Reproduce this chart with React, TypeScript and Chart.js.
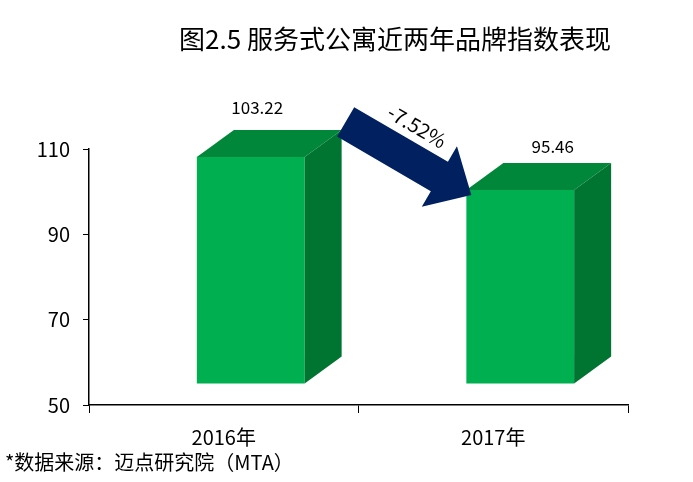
import React, { useEffect, useRef } from 'react';
import { Chart, registerables } from 'chart.js';

Chart.register(...registerables);

const categories = ['2016年', '2017年'];
const indexValues = [103.22, 95.46];
const valueLabels = ['103.22', '95.46'];
const changeLabel = '-7.52%';
const yTicks = [50, 70, 90, 110];

const FONT = '"Noto Sans CJK SC", "Open Sans", sans-serif';
const FRONT = '#00B050';
const TOP = '#00873A';
const SIDE = '#007431';
const NAVY = '#002060';

// 3D look: front face shifted, depth offset
const SHIFT = { x: 27, y: -21 };
const DEPTH = { x: 37, y: -27 };
// label nudges (Excel labels were dragged by hand)
const labelNudge = [[-12, -22], [14, -16]];

const cubePlugin = {
  id: 'cube',
  beforeDatasetsDraw(chart: any) {
    chart.ctx.save();
    chart.ctx.translate(SHIFT.x, SHIFT.y);
  },
  afterDatasetsDraw(chart: any) {
    const ctx = chart.ctx;
    const bars = chart.getDatasetMeta(0).data;
    bars.forEach((el: any) => {
      const L = el.x - el.width / 2;
      const R = el.x + el.width / 2;
      const T = el.y;
      const B = el.base;
      ctx.fillStyle = TOP;
      ctx.beginPath();
      ctx.moveTo(L, T);
      ctx.lineTo(R, T);
      ctx.lineTo(R + DEPTH.x, T + DEPTH.y);
      ctx.lineTo(L + DEPTH.x, T + DEPTH.y);
      ctx.closePath();
      ctx.fill();
      ctx.fillStyle = SIDE;
      ctx.beginPath();
      ctx.moveTo(R, T);
      ctx.lineTo(R + DEPTH.x, T + DEPTH.y);
      ctx.lineTo(R + DEPTH.x, B + DEPTH.y);
      ctx.lineTo(R, B);
      ctx.closePath();
      ctx.fill();
    });
    ctx.restore();
  },
  afterDraw(chart: any) {
    const ctx = chart.ctx;
    const bars = chart.getDatasetMeta(0).data;
    ctx.save();
    // value labels
    ctx.fillStyle = '#000';
    ctx.font = `17px ${FONT}`;
    ctx.textAlign = 'center';
    ctx.textBaseline = 'middle';
    bars.forEach((el: any, i: number) => {
      const cx = el.x + SHIFT.x + DEPTH.x / 2 + labelNudge[i][0];
      const cy = el.y + SHIFT.y + DEPTH.y + labelNudge[i][1];
      ctx.fillText(valueLabels[i], cx, cy);
    });

    // arrow from bar 1 back-top corner to bar 2 front-top corner
    const b1 = bars[0];
    const b2 = bars[1];
    const sx = b1.x + b1.width / 2 + SHIFT.x + DEPTH.x + 4;
    const sy = b1.y + SHIFT.y + DEPTH.y - 8;
    const tx = b2.x - b2.width / 2 + SHIFT.x + 5;
    const ty = b2.y + SHIFT.y + 5;
    const len = Math.hypot(tx - sx, ty - sy);
    const ang = Math.atan2(ty - sy, tx - sx);
    const shaftHalf = 17;
    const headHalf = 35;
    const headLen = 37;
    ctx.translate(sx, sy);
    ctx.rotate(ang);
    ctx.fillStyle = NAVY;
    ctx.beginPath();
    ctx.moveTo(0, -shaftHalf);
    ctx.lineTo(len - headLen, -shaftHalf);
    ctx.lineTo(len - headLen, -headHalf);
    ctx.lineTo(len, 0);
    ctx.lineTo(len - headLen, headHalf);
    ctx.lineTo(len - headLen, shaftHalf);
    ctx.lineTo(0, shaftHalf);
    ctx.closePath();
    ctx.fill();
    ctx.fillStyle = '#000';
    ctx.font = `20px ${FONT}`;
    ctx.fillText(changeLabel, 64, -32);
    ctx.restore();

    // title and footnote
    ctx.save();
    ctx.fillStyle = '#000';
    ctx.textBaseline = 'middle';
    ctx.textAlign = 'center';
    ctx.font = `26px ${FONT}`;
    ctx.fillText('图2.5 服务式公寓近两年品牌指数表现', 395, 39);
    ctx.textAlign = 'left';
    ctx.font = `20px ${FONT}`;
    ctx.fillText('*数据来源：迈点研究院（MTA）', 5, 462);
    ctx.restore();
  },
};

export default function App() {
  const canvasRef = useRef<HTMLCanvasElement | null>(null);
  useEffect(() => {
    document.body.style.margin = '0';
    if (!canvasRef.current) return;
    const c = new Chart(canvasRef.current, {
      type: 'bar',
      data: {
        labels: categories,
        datasets: [{
          data: indexValues,
          base: 50,
          backgroundColor: FRONT,
          borderWidth: 0,
          barPercentage: 0.4,
          categoryPercentage: 1,
          clip: false as any,
        }],
      },
      options: {
        responsive: true,
        maintainAspectRatio: false,
        animation: false,
        layout: { padding: { top: 149, bottom: 21, right: 65, left: 0 } },
        plugins: { legend: { display: false }, tooltip: { enabled: false }, title: { display: false } },
        scales: {
          x: {
            grid: { display: true, drawOnChartArea: false, offset: true, tickLength: 8, color: '#000', lineWidth: 1 },
            border: { color: '#000', width: 1.5 },
            ticks: { color: '#000', font: { size: 20, family: FONT }, padding: 12 },
          },
          y: {
            min: yTicks[0],
            max: yTicks[yTicks.length - 1],
            afterBuildTicks: (scale: any) => { scale.ticks = yTicks.map((v) => ({ value: v })); },
            afterFit: (scale: any) => { scale.width = 89; },
            grid: { display: true, drawOnChartArea: false, tickLength: 6, color: '#000', lineWidth: 1 },
            border: { color: '#000', width: 1.5 },
            ticks: { color: '#000', font: { size: 20, family: FONT }, padding: 13 },
          },
        },
      },
      plugins: [cubePlugin],
    });
    return () => { c.destroy(); };
  }, []);
  return (
    <div style={{ position: 'relative', width: 693, height: 482 }}>
      <canvas ref={canvasRef} />
    </div>
  );
}
